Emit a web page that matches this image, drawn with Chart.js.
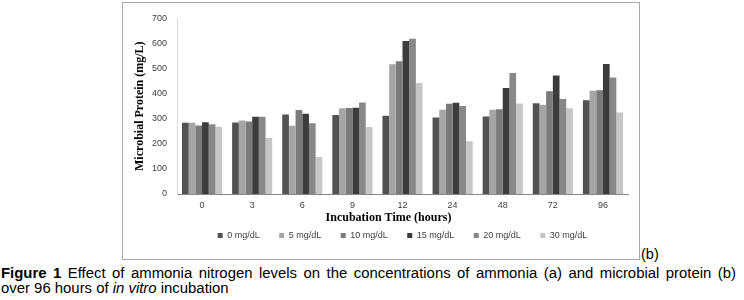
<!DOCTYPE html>
<html>
<head>
<meta charset="utf-8">
<script src="https://cdn.jsdelivr.net/npm/chart.js@4.4.1/dist/chart.umd.min.js"></script>
<style>
  html, body { margin: 0; padding: 0; background: #fff; width: 744px; height: 300px; overflow: hidden; }
  #frame { position: absolute; left: 122px; top: 2px; width: 516px; height: 256px; border: 1px solid #a6a6a6; background: #fff; }
  #chart { display: block; }
  .label-b { position: absolute; left: 641px; top: 247px; font: 14.5px/15px "Liberation Sans", Arial, sans-serif; color: #000; }
  .cap { position: absolute; left: 1px; font: 14.9px/15px "Liberation Sans", Arial, sans-serif; color: #000; white-space: nowrap; }
  .cap1 { top: 266px; width: 735px; text-align: justify; text-align-last: justify; }
  .cap2 { top: 281px; }
</style>
</head>
<body>
<div id="frame"><canvas id="chart" width="516" height="256"></canvas></div>
<div class="label-b">(b)</div>
<div class="cap cap1"><b>Figure 1</b> Effect of ammonia nitrogen levels on the concentrations of ammonia (a) and microbial protein (b)</div>
<div class="cap cap2">over 96 hours of <i>in vitro</i> incubation</div>
<script>
// ---- data ----
const categories = ['0', '3', '6', '9', '12', '24', '48', '72', '96'];
const seriesNames = ['0 mg/dL', '5 mg/dL', '10 mg/dL', '15 mg/dL', '20 mg/dL', '30 mg/dL'];
const mg0  = [284, 285, 317, 315, 312, 305, 309, 362, 374];
const mg5  = [284, 293, 272, 342, 517, 336, 336, 356, 412];
const mg10 = [273, 289, 335, 343, 529, 360, 338, 410, 414];
const mg15 = [286, 308, 320, 344, 610, 364, 423, 472, 518];
const mg20 = [278, 308, 282, 365, 619, 351, 482, 379, 464];
const mg30 = [268, 223, 147, 267, 442, 210, 361, 342, 325];
const yTickValues = [0, 100, 200, 300, 400, 500, 600, 700];
const xTitle = 'Incubation Time (hours)';
const yTitle = 'Microbial Protein (mg/L)';

const seriesValues = [mg0, mg5, mg10, mg15, mg20, mg30];
const colors = ['#525252', '#a5a5a5', '#7a7a7a', '#3c3c3c', '#888888', '#c6c6c6'];

const xTitlePlugin = {
  id: 'xTitlePlugin',
  afterDraw(chart) {
    const ca = chart.chartArea;
    const ctx = chart.ctx;
    ctx.save();
    ctx.font = 'bold 12px "Liberation Serif", "Times New Roman", serif';
    ctx.fillStyle = '#000';
    ctx.textAlign = 'center';
    ctx.textBaseline = 'middle';
    ctx.fillText(xTitle, (ca.left + ca.right) / 2 - 14, ca.bottom + 24);
    ctx.restore();
  }
};

new Chart(document.getElementById('chart'), {
  type: 'bar',
  data: {
    labels: categories,
    datasets: seriesNames.map((n, i) => ({
      label: n,
      data: seriesValues[i],
      backgroundColor: colors[i],
      borderWidth: 0,
      categoryPercentage: 0.8,
      barPercentage: 1.0
    }))
  },
  options: {
    responsive: false,
    animation: false,
    layout: { padding: { left: 0, right: 11, top: 10, bottom: 9 } },
    plugins: {
      tooltip: { enabled: false },
      legend: {
        position: 'bottom',
        fullSize: false,
        labels: {
          boxWidth: 5,
          boxHeight: 5,
          padding: 19.5,
          color: '#404040',
          font: { family: '"Liberation Sans", Arial, sans-serif', size: 9 }
        }
      }
    },
    scales: {
      x: {
        grid: { display: false, drawTicks: false },
        border: { display: true, color: '#868686', width: 1 },
        ticks: {
          padding: 6,
          color: '#404040',
          font: { family: '"Liberation Sans", Arial, sans-serif', size: 9 }
        },
        afterFit(s) { s.height = 17.5; }
      },
      y: {
        min: 0,
        max: 700,
        grid: { display: false, drawTicks: false },
        border: { display: true, color: '#d9d9d9', width: 1 },
        afterBuildTicks(s) { s.ticks = yTickValues.map(v => ({ value: v })); },
        ticks: {
          padding: 10,
          color: '#404040',
          font: { family: '"Liberation Sans", Arial, sans-serif', size: 9 }
        },
        title: {
          display: true,
          text: yTitle,
          color: '#000',
          padding: { top: 10, bottom: 0 },
          font: { family: '"Liberation Serif", "Times New Roman", serif', size: 12, weight: 'bold' }
        },
        afterFit(s) { s.width = 54; }
      }
    }
  },
  plugins: [xTitlePlugin]
});
</script>
</body>
</html>
